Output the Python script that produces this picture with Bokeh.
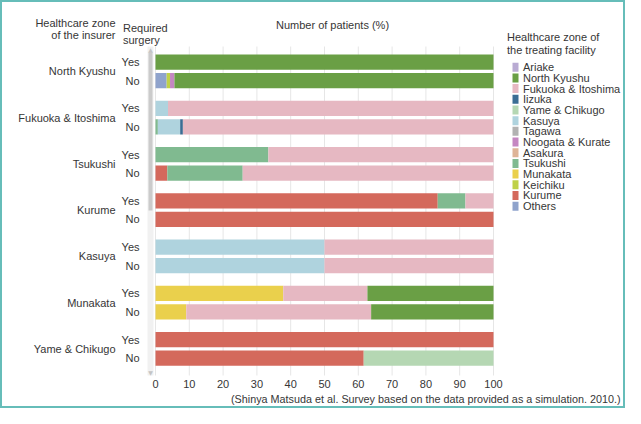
from bokeh.plotting import figure
from bokeh.models import (Range1d, Label, BoxAnnotation, ColumnDataSource)
from bokeh.core.properties import value
from bokeh.embed import file_html
from bokeh.resources import INLINE

# ---------------- data ----------------
insurer_zones = ["North Kyushu", "Fukuoka & Itoshima", "Tsukushi", "Kurume",
                 "Kasuya", "Munakata", "Yame & Chikugo"]
surgery = ["Yes", "No"]
x_ticks = [0, 10, 20, 30, 40, 50, 60, 70, 80, 90, 100]

legend_order = ["Ariake", "North Kyushu", "Fukuoka & Itoshima", "Iizuka", "Yame & Chikugo",
                "Kasuya", "Tagawa", "Noogata & Kurate", "Asakura", "Tsukushi", "Munakata",
                "Keichiku", "Kurume", "Others"]
stack_order = ["Others", "Keichiku", "Noogata & Kurate", "Munakata", "Kurume", "Tsukushi",
               "Kasuya", "Iizuka", "Fukuoka & Itoshima", "North Kyushu", "Yame & Chikugo",
               "Ariake", "Tagawa", "Asakura"]
colors = {
    "Ariake": "#b9abd3", "North Kyushu": "#6a9f45", "Fukuoka & Itoshima": "#e6b8c2",
    "Iizuka": "#3b6d94", "Yame & Chikugo": "#b5d7b3", "Kasuya": "#afd3de",
    "Tagawa": "#b2b2b2", "Noogata & Kurate": "#c587c2", "Asakura": "#deb497",
    "Tsukushi": "#80ba90", "Munakata": "#ead04c", "Keichiku": "#bfd148",
    "Kurume": "#d4695c", "Others": "#8fa3cc",
}

# bars: (zone, Yes), (zone, No) for each insurer zone, top to bottom  (percent)
ariake           = [0, 0,    0,    0,    0,    0,    0,    0,   0,  0,  0,    0,    0,   0]
north_kyushu     = [100, 94.4, 0,  0,    0,    0,    0,    0,   0,  0,  37.3, 36.2, 0,   0]
fukuoka_itoshima = [0, 0,    96.3, 91.9, 66.6, 74.2, 8.3,  0,   50, 50, 24.9, 54.7, 0,   0]
iizuka           = [0, 0,    0,    0.8,  0,    0,    0,    0,   0,  0,  0,    0,    0,   0]
yame_chikugo     = [0, 0,    0,    0,    0,    0,    0,    0,   0,  0,  0,    0,    0,   38.4]
kasuya           = [0, 0,    3.7,  6.6,  0,    0,    0,    0,   50, 50, 0,    0,    0,   0]
tagawa           = [0, 0,    0,    0,    0,    0,    0,    0,   0,  0,  0,    0,    0,   0]
noogata_kurate   = [0, 1.3,  0,    0,    0,    0,    0,    0,   0,  0,  0,    0,    0,   0]
asakura          = [0, 0,    0,    0,    0,    0,    0,    0,   0,  0,  0,    0,    0,   0]
tsukushi         = [0, 0,    0,    0.7,  33.4, 22.3, 8.2,  0,   0,  0,  0,    0,    0,   0]
munakata         = [0, 0,    0,    0,    0,    0,    0,    0,   0,  0,  37.8, 9.1,  0,   0]
keichiku         = [0, 1.0,  0,    0,    0,    0,    0,    0,   0,  0,  0,    0,    0,   0]
kurume           = [0, 0,    0,    0,    0,    3.5,  83.5, 100, 0,  0,  0,    0,    100, 61.6]
others           = [0, 3.3,  0,    0,    0,    0,    0,    0,   0,  0,  0,    0,    0,   0]

# ---------------- layout (canvas pixels -> data) ----------------
W, H = 625, 408
X0_PX, PX_X = 153.0, 3.38     # canvas x of value 0, px per percent
Y0_PX, PX_Y = 68.8, 46.25     # canvas y of first zone centre, px per zone


def dx(cx):
    return (cx - X0_PX) / PX_X


def dy(cy):
    return (cy - Y0_PX) / PX_Y


BAR_TOP, BAR_BOT = dy(44), dy(373)   # vertical extent of the plotting band

OFF = 0.2
bar_y = [round(i + o, 2) for i in range(len(insurer_zones)) for o in (-OFF, OFF)]
bar_lbl = [s for _ in insurer_zones for s in surgery]

source = ColumnDataSource(data={
    "y": bar_y,
    "Ariake": ariake, "North Kyushu": north_kyushu, "Fukuoka & Itoshima": fukuoka_itoshima,
    "Iizuka": iizuka, "Yame & Chikugo": yame_chikugo, "Kasuya": kasuya, "Tagawa": tagawa,
    "Noogata & Kurate": noogata_kurate, "Asakura": asakura, "Tsukushi": tsukushi,
    "Munakata": munakata, "Keichiku": keichiku, "Kurume": kurume, "Others": others,
})

FONT = "Liberation Sans"
TXT = "#363636"
FS = "11px"

p = figure(width=W, height=H, x_range=Range1d(dx(0), dx(W)), y_range=Range1d(dy(H), dy(0)),
           output_backend="svg", toolbar_location=None,
           x_axis_location=None, y_axis_location=None,
           min_border=0, min_border_left=0, min_border_right=0,
           min_border_top=0, min_border_bottom=0)
p.outline_line_color = None
p.background_fill_color = "white"
p.border_fill_color = "white"
p.grid.visible = False
p.styles = {"border": "2px solid #66bdb9"}

# scrollbar decoration (left of the bars)
p.add_layout(BoxAnnotation(left=dx(145), right=dx(151), top=BAR_TOP, bottom=BAR_BOT,
                           fill_color="#f1f1f1", fill_alpha=1, line_color=None, level="underlay"))
p.add_layout(BoxAnnotation(left=dx(146), right=dx(150), top=dy(50), bottom=dy(208),
                           fill_color="#cbcbcb", fill_alpha=1, line_color=None, level="underlay"))

# vertical grid lines at the x ticks
p.segment(x0=x_ticks, x1=x_ticks, y0=BAR_TOP, y1=BAR_BOT, line_color="#e6e6e6", line_width=1)

renderers = p.hbar_stack(stack_order, y="y", height=0.33, source=source,
                         color=[colors[n] for n in stack_order], line_color=None)

# x tick labels
p.text(x=x_ticks, y=[dy(381)] * len(x_ticks), text=[str(t) for t in x_ticks],
       text_align="center", text_baseline="middle", text_font=value(FONT),
       text_font_size=FS, text_color=TXT)
# Yes / No labels
p.text(x=[dx(137)] * len(bar_y), y=bar_y, text=bar_lbl,
       text_align="right", text_baseline="middle", text_font=value(FONT),
       text_font_size=FS, text_color=TXT)
# insurer zone labels
p.text(x=[dx(113)] * len(insurer_zones), y=list(range(len(insurer_zones))), text=insurer_zones,
       text_align="right", text_baseline="middle", text_font=value(FONT),
       text_font_size=FS, text_color=TXT)

# legend of treating-facility zones (tight spacing as in the original)
LEG_TOP, LEG_STEP = 64.7, 10.69
leg_y = [dy(LEG_TOP + i * LEG_STEP) for i in range(len(legend_order))]
p.rect(x=[dx(513)] * len(legend_order), y=leg_y, width=6, height=9,
       width_units="screen", height_units="screen",
       fill_color=[colors[n] for n in legend_order], line_color=None)
p.text(x=[dx(520.5)] * len(legend_order), y=leg_y, text=legend_order,
       text_align="left", text_baseline="middle", text_font=value(FONT),
       text_font_size=FS, text_color=TXT)


def lab(cx, cy, text, align="left", size=FS, color=TXT, font=FONT):
    p.add_layout(Label(x=dx(cx), y=dy(cy), text=text, text_align=align, text_baseline="middle",
                       text_font=font, text_font_size=size, text_color=color))


lab(113, 20.5, "Healthcare zone", "right")
lab(113, 32, "of the insurer", "right")
lab(120.5, 25.5, "Required")
lab(120.5, 37, "surgery")
lab(330, 22, "Number of patients (%)", "center")
lab(504.5, 34.5, "Healthcare zone of")
lab(504.5, 47, "the treating facility")
lab(618, 396.5, "(Shinya Matsuda et al. Survey based on the data provided as a simulation. 2010.)",
    "right", size="10.8px")
lab(148, 46.5, "\u25b2", "center", size="6px", color="#c4c4c4", font="DejaVu Sans")
lab(148, 370, "\u25bc", "center", size="6px", color="#c4c4c4", font="DejaVu Sans")

open("out.html", "w").write(file_html(p, INLINE))
